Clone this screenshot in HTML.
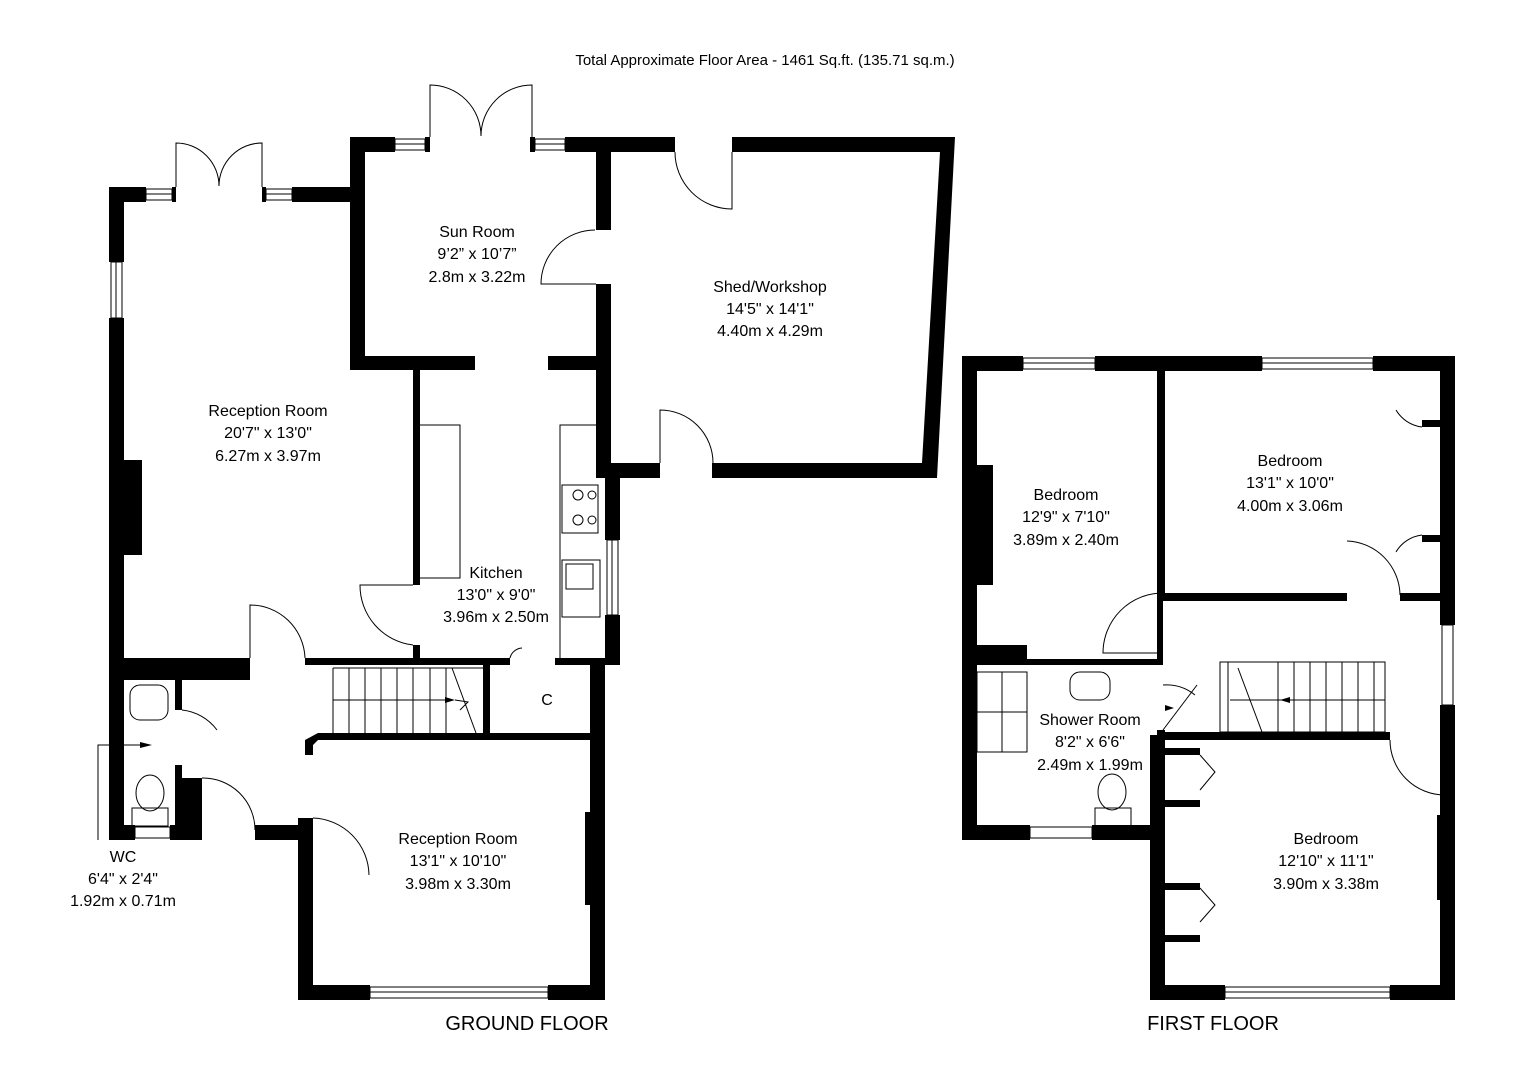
<!DOCTYPE html>
<html><head><meta charset="utf-8"><style>
html,body{margin:0;padding:0;background:#fff}
svg{display:block}
text{font-family:"Liberation Sans",Arial,sans-serif;fill:#000}
</style></head><body>
<svg width="1528" height="1080" viewBox="0 0 1528 1080" xmlns="http://www.w3.org/2000/svg">
<text x="765" y="65" font-size="15" text-anchor="middle">Total Approximate Floor Area - 1461 Sq.ft. (135.71 sq.m.)</text>
<g fill="#000">
<rect x="109" y="187" width="15" height="75"/>
<rect x="109" y="318" width="15" height="522"/>
<rect x="109" y="187" width="37" height="15"/>
<rect x="172" y="187" width="4" height="15"/>
<rect x="262" y="187" width="4" height="15"/>
<rect x="292" y="187" width="73" height="15"/>
<rect x="124" y="460" width="18" height="95"/>
<rect x="350" y="137" width="15" height="233"/>
<rect x="350" y="137" width="45" height="15"/>
<rect x="425" y="137" width="5" height="15"/>
<rect x="530" y="137" width="5" height="15"/>
<rect x="565" y="137" width="47" height="15"/>
<rect x="350" y="356" width="125" height="14"/>
<rect x="548" y="356" width="63" height="14"/>
<rect x="596" y="137" width="15" height="93"/>
<rect x="596" y="284" width="15" height="194"/>
<rect x="596" y="137" width="79" height="15"/>
<polygon points="732,137 955,137 937,478 712,478 712,463 922,463 940,152 732,152"/>
<rect x="611" y="463" width="49" height="15"/>
<rect x="413" y="370" width="7" height="215"/>
<rect x="413" y="645" width="7" height="20"/>
<rect x="605" y="475" width="15" height="65"/>
<rect x="605" y="615" width="15" height="50"/>
<rect x="590" y="658" width="15" height="342"/>
<rect x="124" y="658" width="126" height="22"/>
<rect x="305" y="658" width="205" height="7"/>
<rect x="555" y="658" width="50" height="7"/>
<rect x="483" y="665" width="7" height="70"/>
<rect x="318" y="733" width="287" height="7"/>
<polygon points="305,740 318,733 318,740 313,745 313,755 305,755"/>
<rect x="175" y="665" width="7" height="45"/>
<rect x="175" y="765" width="7" height="75"/>
<rect x="182" y="778" width="20" height="62"/>
<rect x="109" y="825" width="26" height="15"/>
<rect x="170" y="825" width="32" height="15"/>
<rect x="255" y="825" width="50" height="15"/>
<rect x="298" y="818" width="15" height="182"/>
<rect x="298" y="985" width="72" height="15"/>
<rect x="548" y="985" width="57" height="15"/>
<rect x="585" y="812" width="12" height="93"/>
<rect x="962" y="356" width="15" height="484"/>
<rect x="962" y="356" width="61" height="15"/>
<rect x="1095" y="356" width="167" height="15"/>
<rect x="1373" y="356" width="82" height="15"/>
<rect x="1440" y="356" width="15" height="269"/>
<rect x="1440" y="705" width="15" height="295"/>
<rect x="1422" y="420" width="33" height="7"/>
<rect x="1422" y="535" width="33" height="7"/>
<rect x="1157" y="371" width="8" height="230"/>
<rect x="1157" y="593" width="190" height="8"/>
<rect x="1400" y="593" width="55" height="8"/>
<rect x="977" y="465" width="16" height="120"/>
<rect x="977" y="645" width="50" height="20"/>
<rect x="1027" y="659" width="130" height="6"/>
<rect x="1157" y="593" width="6" height="72"/>
<rect x="1157" y="730" width="8" height="110"/>
<rect x="962" y="825" width="68" height="15"/>
<rect x="1092" y="825" width="73" height="15"/>
<rect x="1150" y="735" width="15" height="265"/>
<rect x="1163" y="732" width="227" height="8"/>
<rect x="1443" y="740" width="12" height="55"/>
<rect x="1437" y="815" width="18" height="85"/>
<rect x="1150" y="985" width="75" height="15"/>
<rect x="1390" y="985" width="65" height="15"/>
<rect x="1165" y="748" width="35" height="7"/>
<rect x="1165" y="800" width="35" height="7"/>
<rect x="1165" y="883" width="35" height="7"/>
<rect x="1165" y="935" width="35" height="7"/>
</g>
<g fill="none" stroke="#000" stroke-width="1">
<rect x="146" y="189" width="26" height="11"/><line x1="146" y1="194" x2="172" y2="194"/>
<rect x="266" y="189" width="26" height="11"/><line x1="266" y1="194" x2="292" y2="194"/>
<rect x="111" y="262" width="11" height="56"/><line x1="116" y1="262" x2="116" y2="318"/>
<rect x="395" y="139" width="30" height="11"/><line x1="395" y1="144" x2="425" y2="144"/>
<rect x="535" y="139" width="30" height="11"/><line x1="535" y1="144" x2="565" y2="144"/>
<rect x="607" y="540" width="11" height="75"/><line x1="612" y1="540" x2="612" y2="615"/>
<rect x="135" y="827" width="35" height="11"/>
<rect x="370" y="987" width="178" height="11"/><line x1="370" y1="992" x2="548" y2="992"/>
<rect x="1023" y="358" width="72" height="11"/><line x1="1023" y1="363" x2="1095" y2="363"/>
<rect x="1262" y="358" width="111" height="11"/><line x1="1262" y1="363" x2="1373" y2="363"/>
<rect x="1442" y="625" width="11" height="80"/>
<rect x="1030" y="827" width="62" height="11"/>
<rect x="1225" y="987" width="165" height="11"/><line x1="1225" y1="992" x2="1390" y2="992"/>
<path d="M176,187 V143 A43,43 0 0 1 219,186"/>
<path d="M262,187 V143 A43,43 0 0 0 219,186"/>
<path d="M430,137 V85 A51,51 0 0 1 481,136"/>
<path d="M532,137 V85 A51,51 0 0 0 481,136"/>
<path d="M596,284 H541 A54,54 0 0 1 595,230"/>
<path d="M675,152 A57,57 0 0 0 732,209 V152"/>
<path d="M660,463 V410 A53,53 0 0 1 713,463"/>
<path d="M413,585 H360 A60,60 0 0 0 413,645"/>
<path d="M250,658 V605 A55,55 0 0 1 305,658"/>
<path d="M510,658 A13,13 0 0 1 522,648"/>
<path d="M202,778 A52,52 0 0 1 255,830"/>
<path d="M313,818 A58,58 0 0 1 369,875"/>
<path d="M182,710 A50,50 0 0 1 217,730"/>
<path d="M1163,593 A60,60 0 0 0 1103,653 H1157"/>
<path d="M1347,541 A55,55 0 0 1 1400,595"/>
<path d="M1163,685 A45,45 0 0 1 1195,695"/>
<path d="M1390,740 A55,55 0 0 0 1445,795 V740"/>
<path d="M1422,427 A35,35 0 0 1 1396,410"/>
<path d="M1422,535 A35,35 0 0 0 1396,552"/>
<polyline points="420,425 460,425 460,578 420,578"/>
<polyline points="605,425 560,425 560,658"/>
<rect x="562" y="485" width="36" height="48"/>
<circle cx="578" cy="495" r="5"/><circle cx="592" cy="495" r="4"/><circle cx="578" cy="520" r="5"/><circle cx="592" cy="520" r="4"/>
<rect x="562" y="560" width="38" height="57"/><rect x="566" y="564" width="27" height="25"/>
<path d="M333,668 V733 M349,668 V733 M365,668 V733 M381,668 V733 M397,668 V733 M413,668 V733 M430,668 V733 M446,668 V733 M333,668 H483 M333,700 H445 M452,668 L476,733 M455,700 L468,702 L460,710"/>
<polyline points="98,840 98,745 145,745"/>
<rect x="130" y="685" width="38" height="35" rx="10"/>
<ellipse cx="150" cy="793" rx="14" ry="18"/><rect x="132" y="808" width="36" height="18"/>
<rect x="1220" y="662" width="165" height="70"/>
<path d="M1228,662 V732 M1278,662 V732 M1294,662 V732 M1310,662 V732 M1326,662 V732 M1342,662 V732 M1358,662 V732 M1374,662 V732 M1230,700 H1385 M1238,668 L1262,732"/>
<rect x="977" y="672" width="50" height="80"/><line x1="1002" y1="672" x2="1002" y2="752"/><line x1="977" y1="712" x2="1027" y2="712"/>
<rect x="1070" y="672" width="40" height="28" rx="10"/>
<ellipse cx="1112" cy="792" rx="14" ry="18"/><rect x="1095" y="808" width="36" height="18"/>
<line x1="1163" y1="730" x2="1197" y2="685"/>
<path d="M1200,755 L1215,772 L1200,790 M1200,888 L1215,905 L1200,922"/>
</g>
<polygon points="140,742 152,745 140,748"/>
<polygon points="445,697 455,700 445,703"/>
<polygon points="1290,697 1280,700 1290,703"/>
<polygon points="1165,705 1174,708 1165,711"/>
<g font-size="16" text-anchor="middle">
<text x="477" y="237">Sun Room</text><text x="477" y="259">9’2” x  10’7”</text><text x="477" y="282">2.8m x 3.22m</text>
<text x="770" y="292">Shed/Workshop</text><text x="770" y="314">14'5" x 14'1"</text><text x="770" y="336">4.40m x 4.29m</text>
<text x="268" y="416">Reception Room</text><text x="268" y="438">20'7" x 13'0"</text><text x="268" y="461">6.27m x 3.97m</text>
<text x="496" y="578">Kitchen</text><text x="496" y="600">13'0" x 9'0"</text><text x="496" y="622">3.96m x 2.50m</text>
<text x="547" y="705">C</text>
<text x="458" y="844">Reception Room</text><text x="458" y="866">13'1" x 10'10"</text><text x="458" y="889">3.98m x 3.30m</text>
<text x="123" y="862">WC</text><text x="123" y="884">6'4" x 2'4"</text><text x="123" y="906">1.92m x 0.71m</text>
<text x="1066" y="500">Bedroom</text><text x="1066" y="522">12'9" x 7'10"</text><text x="1066" y="545">3.89m x 2.40m</text>
<text x="1290" y="466">Bedroom</text><text x="1290" y="488">13'1" x 10'0"</text><text x="1290" y="511">4.00m x 3.06m</text>
<text x="1090" y="725">Shower Room</text><text x="1090" y="747">8'2" x 6'6"</text><text x="1090" y="770">2.49m x 1.99m</text>
<text x="1326" y="844">Bedroom</text><text x="1326" y="866">12'10" x 11'1"</text><text x="1326" y="889">3.90m x 3.38m</text>
</g>
<g font-size="20" text-anchor="middle">
<text x="527" y="1030">GROUND FLOOR</text>
<text x="1213" y="1030">FIRST FLOOR</text>
</g>
</svg>
</body></html>
